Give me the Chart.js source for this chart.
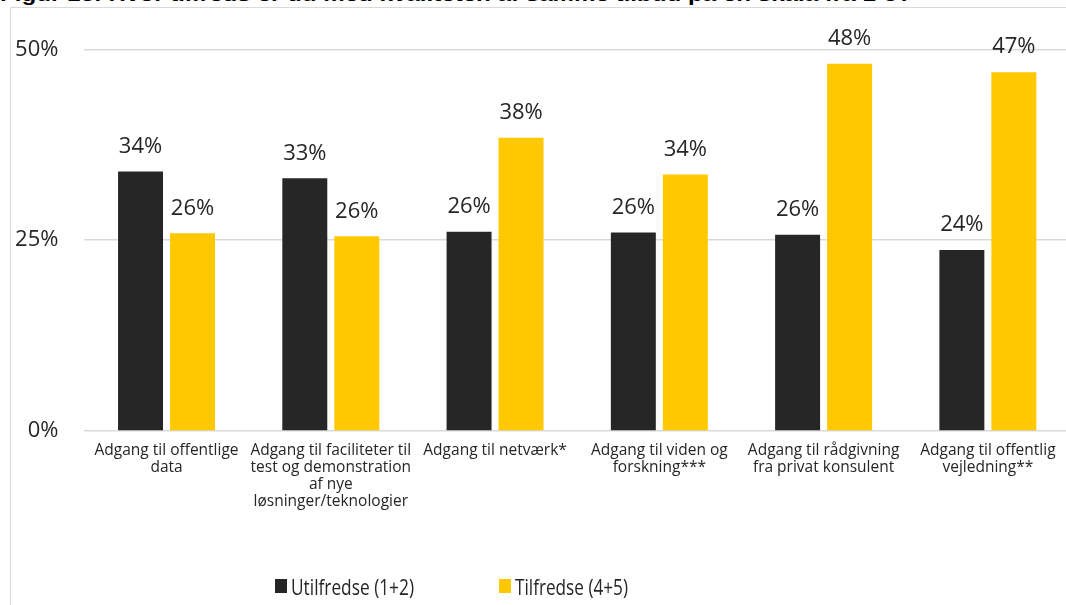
<!DOCTYPE html>
<html>
<head>
<meta charset="utf-8">
<script src="https://cdn.jsdelivr.net/npm/chart.js@4/dist/chart.umd.min.js"></script>
<style>
  html,body{margin:0;padding:0;background:#fff;}
  #wrap{position:relative;width:1066px;height:605px;overflow:hidden;background:#fff;font-family:"Open Sans",sans-serif;color:#262626;}
  #frame{position:absolute;left:10px;top:7px;width:1200px;height:800px;border-left:1.5px solid #d9d9d9;border-top:1.5px solid #d9d9d9;box-sizing:border-box;}
  #title{position:absolute;left:0;top:-15px;font:bold 18px "Liberation Sans",Arial,sans-serif;white-space:nowrap;transform-origin:0 0;color:#000;}
  #chartBox{position:absolute;left:10px;top:7px;width:1060px;height:598px;}
  .lg{position:absolute;top:573px;height:26px;display:flex;align-items:center;font-size:22px;white-space:nowrap;}
  .lg .sw{width:12px;height:14px;margin-right:4px;display:inline-block;}
  .lg .tx{display:inline-block;transform-origin:0 50%;}
</style>
</head>
<body>
<div id="wrap">
  <div id="title">Figur 16: Hvor tilfreds er du med kvaliteten af samme tilbud på en skala fra 1-5?</div>
  <div id="frame"></div>
  <div id="chartBox"><canvas id="c" width="1060" height="598"></canvas></div>
  <div id="legend"></div>
</div>
<script>
// ---- data ----
const categories = [
  ["Adgang til offentlige", "data"],
  ["Adgang til faciliteter til", "test og demonstration", "af nye", "løsninger/teknologier"],
  ["Adgang til netværk*"],
  ["Adgang til viden og", "forskning***"],
  ["Adgang til rådgivning", "fra privat konsulent"],
  ["Adgang til offentlig", "vejledning**"]
];
const seriesNames = ["Utilfredse (1+2)", "Tilfredse (4+5)"];
const utilfredse = [34.0, 33.1, 26.1, 26.0, 25.7, 23.7];
const tilfredse  = [25.9, 25.5, 38.4, 33.6, 48.1, 47.0];
const yTicks = [0, 25, 50];

const colors = ["#262626", "#FFC800"];
const textColor = "#262626";

// scale title to the visible width
(function(){
  const t = document.getElementById('title');
  const w = t.getBoundingClientRect().width;
  t.style.transform = 'scaleX(' + (912 / w) + ')';
})();

// HTML legend
(function(){
  const lg = document.getElementById('legend');
  const pos = [{x:275, w:123}, {x:499, w:113}];
  seriesNames.forEach((name, i) => {
    const d = document.createElement('div');
    d.className = 'lg';
    d.style.left = pos[i].x + 'px';
    const sw = document.createElement('span'); sw.className = 'sw'; sw.style.background = colors[i];
    const tx = document.createElement('span'); tx.className = 'tx'; tx.textContent = name;
    d.appendChild(sw); d.appendChild(tx);
    lg.appendChild(d);
    const w = tx.getBoundingClientRect().width;
    tx.style.transform = 'scaleX(' + (pos[i].w / w) + ')';
  });
})();

const valueLabels = {
  id: 'valueLabels',
  afterDatasetsDraw(chart) {
    const ctx = chart.ctx;
    ctx.save();
    ctx.font = '22px "Open Sans"';
    ctx.fillStyle = textColor;
    ctx.textAlign = 'center';
    ctx.textBaseline = 'middle';
    chart.data.datasets.forEach((ds, i) => {
      chart.getDatasetMeta(i).data.forEach((bar, j) => {
        ctx.fillText(Math.round(ds.data[j]) + '%', bar.x, bar.y - 25);
      });
    });
    ctx.restore();
  }
};

new Chart(document.getElementById('c'), {
  type: 'bar',
  data: {
    labels: categories,
    datasets: [
      {label: seriesNames[0], data: utilfredse, backgroundColor: colors[0], categoryPercentage: 0.633, barPercentage: 0.865},
      {label: seriesNames[1], data: tilfredse, backgroundColor: colors[1], categoryPercentage: 0.633, barPercentage: 0.865}
    ]
  },
  options: {
    responsive: false,
    animation: false,
    devicePixelRatio: 1,
    layout: {padding: {top: 42.3, right: 0, left: 0, bottom: 0}},
    plugins: {legend: {display: false}, tooltip: {enabled: false}, title: {display: false}},
    scales: {
      x: {
        grid: {display: false, drawTicks: false},
        border: {display: false},
        ticks: {
          color: textColor,
          font: {family: '"Open Sans"', size: 15.5, lineHeight: 1.1},
          maxRotation: 0, minRotation: 0, autoSkip: false, padding: 11
        },
        afterFit(scale) { scale.height = 174; }
      },
      y: {
        min: 0, max: 50,
        afterBuildTicks(scale) { scale.ticks = yTicks.map(v => ({value: v})); },
        grid: {color: '#d9d9d9', lineWidth: 1.5, drawTicks: false},
        border: {display: false},
        ticks: {
          color: textColor,
          font: {family: '"Open Sans"', size: 22},
          padding: 26,
          callback: v => v + '%'
        },
        afterFit(scale) { scale.width = 74.4; }
      }
    }
  },
  plugins: [valueLabels]
});
</script>
</body>
</html>
